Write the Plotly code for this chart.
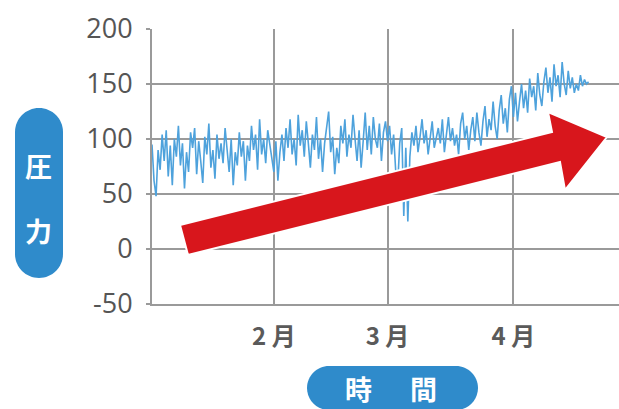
import pandas as pd
import plotly.graph_objects as go

# Pressure readings, two per day (00:00 and 12:00), starting 2 January
jan_values = [95, 62, 48, 90, 72, 104, 80, 108, 66, 94,
              58, 100, 84, 112, 76, 96, 55, 88, 70, 106,
              92, 110, 68, 98, 80, 60, 102, 86, 114, 74,
              90, 64, 104, 82, 96, 78, 110, 92, 70, 100,
              58, 88, 76, 106, 84, 98, 62, 94, 80, 112,
              90, 104, 72, 118, 86, 100, 78, 108, 94, 84]
feb_values = [70, 98, 62, 88, 104, 80, 110, 92, 118, 86,
              100, 76, 122, 94, 108, 84, 116, 96, 74, 104,
              90, 120, 82, 100, 70, 96, 110, 125, 88, 102,
              68, 92, 78, 112, 96, 118, 84, 104, 92, 122,
              100, 80, 108, 74, 98, 124, 90, 112, 86, 120,
              100, 92, 114, 80, 106, 116]
mar_values = [98, 112, 86, 104, 72, 58, 96, 110, 30, 92,
              25, 84, 106, 94, 112, 88, 102, 118, 96, 108,
              86, 104, 116, 92, 100, 110, 96, 118, 88, 106,
              120, 98, 110, 94, 104, 86, 114, 124, 100, 112,
              90, 108, 120, 98, 124, 106, 94, 116, 130, 102,
              118, 108, 134, 112, 100, 126, 140, 114, 128, 106,
              136, 148]
apr_values = [120, 142, 116, 134, 150, 128, 144, 124, 155, 138,
              148, 126, 160, 140, 130, 152, 165, 142, 156, 134,
              168, 148, 158, 138, 170, 150, 140, 162, 146, 156,
              142, 150, 144, 158, 148, 154, 150, 152]

pressure = jan_values + feb_values + mar_values + apr_values
timestamps = pd.date_range("2023-01-02", periods=len(pressure), freq="12h")

month_ticks = ["2023-02-01", "2023-03-01", "2023-04-01"]
month_labels = ["2 月", "3 月", "4 月"]
y_ticks = [-50, 0, 50, 100, 150, 200]
y_labels = ["-50", "0", "50", "100", "150", "200"]
y_grid = [0, 50, 100, 150]

# Page geometry (pixels) used to place the decorations
FIG_W, FIG_H = 619, 409
M_L, M_R, M_T, M_B = 152, 0, 29, 105
PLOT_W = FIG_W - M_L - M_R
PLOT_H = FIG_H - M_T - M_B

GRID = "#9a9a9a"
BLUE = "#2f8bcb"
RED = "#d8161c"


def to_paper(x, y):
    return (x - M_L) / PLOT_W, (FIG_H - M_B - y) / PLOT_H


def path_from(points_cmds):
    parts = []
    for cmd, pts in points_cmds:
        coords = " ".join(f"{to_paper(px, py)[0]:.5f},{to_paper(px, py)[1]:.5f}" for px, py in pts)
        parts.append(f"{cmd} {coords}" if coords else cmd)
    return " ".join(parts)


def pill(x0, y0, x1, y1, r):
    k = 0.5523 * r
    cmds = [
        ("M", [(x0 + r, y0)]),
        ("L", [(x1 - r, y0)]),
        ("C", [(x1 - r + k, y0), (x1, y0 + r - k), (x1, y0 + r)]),
        ("L", [(x1, y1 - r)]),
        ("C", [(x1, y1 - r + k), (x1 - r + k, y1), (x1 - r, y1)]),
        ("L", [(x0 + r, y1)]),
        ("C", [(x0 + r - k, y1), (x0, y1 - r + k), (x0, y1 - r)]),
        ("L", [(x0, y0 + r)]),
        ("C", [(x0, y0 + r - k), (x0 + r - k, y0), (x0 + r, y0)]),
        ("Z", []),
    ]
    return path_from(cmds)


fig = go.Figure()
fig.add_trace(go.Scatter(
    x=timestamps, y=pressure, mode="lines",
    line=dict(color="#4ea2dc", width=1.6),
    hoverinfo="skip", showlegend=False,
))

shapes = []
for v in y_grid:
    shapes.append(dict(type="line", xref="paper", x0=0, x1=1, yref="y", y0=v, y1=v,
                       line=dict(color=GRID, width=2), layer="below"))

# Upward trend arrow
arrow_pts = [(180, 225), (552, 132), (548, 112), (607, 137), (565, 190), (560, 162), (188, 255)]
arrow_cmds = [("M", [arrow_pts[0]])] + [("L", [p]) for p in arrow_pts[1:]] + [("Z", [])]
shapes.append(dict(type="path", xref="paper", yref="paper", path=path_from(arrow_cmds),
                   fillcolor=RED, line=dict(color="white", width=2), layer="above"))

# Axis title badges
shapes.append(dict(type="path", xref="paper", yref="paper", path=pill(15, 108, 63, 278, 24),
                   fillcolor=BLUE, line=dict(width=0), layer="above"))
shapes.append(dict(type="path", xref="paper", yref="paper", path=pill(307, 366, 478, 410, 22),
                   fillcolor=BLUE, line=dict(width=0), layer="above"))

annotations = []
for ch, (px, py) in [("圧", (38, 165)), ("力", (38, 230)), ("時", (358, 388)), ("間", (423, 388))]:
    ax, ay = to_paper(px, py)
    annotations.append(dict(text=f"<b>{ch}</b>", x=ax, y=ay, xref="paper", yref="paper",
                            xanchor="center", yanchor="middle", showarrow=False,
                            font=dict(family="Noto Sans CJK JP", size=27, color="white")))

fig.update_layout(
    width=FIG_W, height=FIG_H,
    margin=dict(l=M_L, r=M_R, t=M_T, b=M_B, pad=0),
    paper_bgcolor="white", plot_bgcolor="white",
    showlegend=False,
    shapes=shapes,
    annotations=annotations,
    xaxis=dict(
        type="date", range=["2023-01-02", "2023-04-27"],
        tickmode="array", tickvals=month_ticks, ticktext=month_labels,
        showgrid=True, gridcolor=GRID, gridwidth=2,
        showline=True, linecolor=GRID, linewidth=2,
        zeroline=False, ticks="", ticklabelstandoff=10,
        tickfont=dict(family="Noto Sans CJK JP", size=24, color="#5a5a5a", weight="bold"),
    ),
    yaxis=dict(
        range=[-50, 200], tickmode="array", tickvals=y_ticks, ticktext=y_labels,
        showgrid=False, zeroline=False,
        showline=True, linecolor=GRID, linewidth=2,
        ticks="outside", ticklen=4, tickcolor=GRID, tickwidth=2,
        ticklabelstandoff=8,
        tickfont=dict(family="Open Sans", size=27, color="#555555"),
    ),
)

fig.write_html("out.html")
